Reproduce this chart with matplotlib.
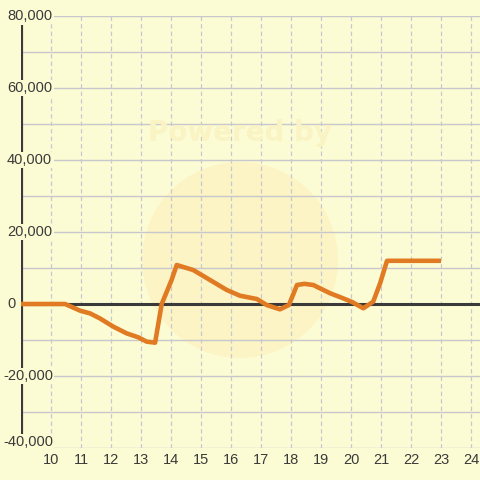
import matplotlib
matplotlib.use("Agg")
import matplotlib.pyplot as plt
from matplotlib.patches import Circle
import matplotlib.transforms as mtransforms

# Data
hours = [9.0, 10.47, 10.97, 11.3, 11.63, 12.08, 12.52, 12.91, 13.19, 13.47, 13.69, 14.02, 14.19,
         14.74, 15.3, 15.86, 16.3, 16.86, 17.19, 17.63, 17.93, 18.2, 18.45, 18.74, 19.3, 19.74,
         20.05, 20.41, 20.74, 20.97, 21.2, 23.0]
values = [0, 0, -1850, -2600, -4000, -6300, -8150, -9260, -10460, -10740, 0, 6670, 10830,
          9440, 6670, 3890, 2300, 1390, -280, -1480, -280, 5280, 5600, 5280, 3000, 1570,
          500, -1200, 650, 5740, 12000, 12000]
x_ticks = list(range(10, 25))
y_ticks = [-40000, -20000, 0, 20000, 40000, 60000, 80000]
y_labels = ["-40,000", "-20,000", "0", "20,000", "40,000", "60,000", "80,000"]

bg = "#FCFCD4"
txt = "#3A3A3A"

fig = plt.figure(figsize=(4.8, 4.8), dpi=100, facecolor=bg)
ax = fig.add_axes([21/480, 1-448/480, 1-21/480, 432/480])
ax.set_facecolor("none")
ax.set_xlim(9, 24.3)
ax.set_ylim(-40000, 80000)
for s in ax.spines.values():
    s.set_visible(False)
ax.set_xticks([])
ax.set_yticks([])

# watermark
circ = Circle((0.5, 1-260/480), 98/480, transform=fig.transFigure, facecolor="#FCF4C4",
              edgecolor="none", zorder=0)
ax.add_patch(circ)
fig.text(0.5, 1-133/480, "Powered by", ha="center", va="center", fontsize=20,
         fontweight="bold", color="#FAF3C4", zorder=0.5)

# grid
for yv in range(-40000, 80001, 10000):
    ax.axhline(yv, color="#C8C8CC", lw=1.0, zorder=1)
for xv in x_ticks:
    ax.plot([xv, xv], [-40000, 80000], color="#C8C8D0", lw=0.9, ls=(0, (3.5, 2.5)), zorder=1)

# left axis line and zero line
ax.plot([9.0, 9.0], [-37500, 77500], color=txt, lw=3.0, zorder=3, solid_capstyle="butt")
ax.axhline(0, color=txt, lw=2.2, zorder=3)

ax.plot(hours, values, color="#E07B24", lw=3.3, zorder=4, solid_joinstyle="round",
        solid_capstyle="butt", clip_on=False)

# y labels with background boxes
trans = mtransforms.blended_transform_factory(fig.transFigure, ax.transData)
for yv, lab in zip(y_ticks, y_labels):
    ypos = yv if yv != -40000 else -38400
    x0 = 7/480 if not lab.startswith("-") else 3/480
    ax.text(x0, ypos, lab, transform=trans, ha="left", va="center", fontsize=10.5,
            color=txt, family="Liberation Sans", zorder=5,
            bbox=dict(facecolor=bg, edgecolor="none", pad=1.0))

for xv in x_ticks:
    ax.text(xv, -41500, str(xv), ha="center", va="top", fontsize=10.5, color=txt,
            family="Liberation Sans", transform=ax.transData, zorder=5)

fig.savefig("out.png", dpi=100, facecolor=bg)
